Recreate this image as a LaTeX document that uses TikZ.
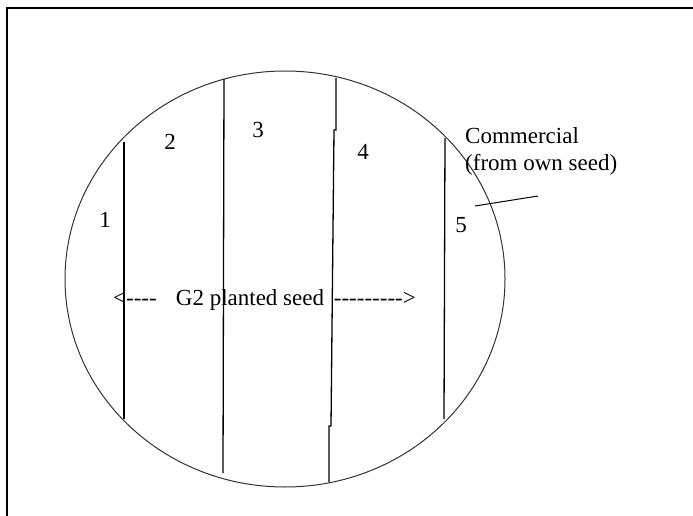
\documentclass[tikz,border=0pt]{standalone}
\usepackage{fontspec}
\setmainfont{Liberation Serif}
\newcommand{\hy}{-\kern0pt}
\begin{document}
\begin{tikzpicture}[x=1pt,y=-1pt,
  lbl/.style={inner sep=0pt,font=\fontsize{23}{25}\selectfont},
  frameline/.style={line width=2pt,black},
  rowline/.style={line width=1.3pt,black},
  rimline/.style={line width=1pt,black!80}]
\useasboundingbox (0,0) rectangle (693,516);
% frame
\draw[frameline] (7,516) -- (7,8) -- (693,8);
% field
\draw[rimline] (285,279) ellipse [x radius=220, y radius=208];
% row divisions
\draw[rowline] (124,142) -- (124,419);
\draw[rowline] (224,79) -- (223,473);
\draw[rowline] (336,78) -- (336,130) -- (334,130) -- (331,426) -- (329,426) -- (329,482);
\draw[rowline] (445,138) -- (444,419);
% labels
\node[lbl] (n1) at (105,220) {1};
\node[lbl] (n2) at (170,142) {2};
\node[lbl] (n3) at (258,130) {3};
\node[lbl] (n4) at (363,152) {4};
\node[lbl] (n5) at (461,225) {5};
\node[lbl,anchor=base west] (c1) at (465,143) {Commercial};
\node[lbl,anchor=base west] (c2) at (465,170) {(from own seed)};
\coordinate (pa) at (475,206);
\coordinate (pb) at (538,196);
\draw[line width=1pt] (pa) -- (pb);
\node[lbl,anchor=base west] (al) at (113,305) {<\hy\hy\hy\hy};
\node[lbl,anchor=base] (g2) at (250,305) {G2 planted seed};
\node[lbl,anchor=base east] (ar) at (416,305) {\hy\hy\hy\hy\hy\hy\hy\hy\hy>};
\end{tikzpicture}
\end{document}
